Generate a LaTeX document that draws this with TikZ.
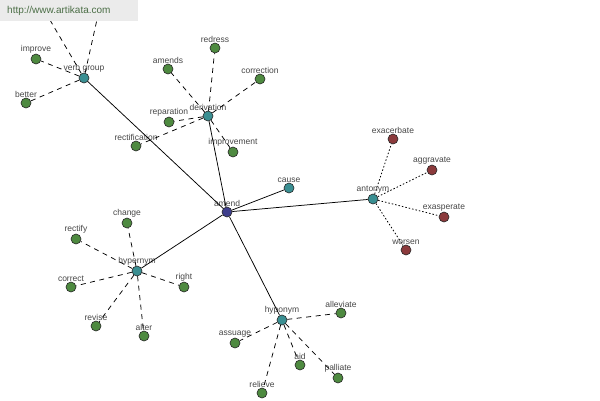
\documentclass[tikz,border=0pt]{standalone}
\usepackage{fontspec}
\setmainfont{Liberation Sans}
\begin{document}
\begin{tikzpicture}[x=1pt,y=-1pt,
  lbl/.style={font=\fontsize{8.5}{9}\selectfont, text=black!72, inner sep=0pt},
  nd/.style={circle, draw=black!85, line width=0.6pt, minimum size=10pt, inner sep=0pt, label distance=2.5pt},
  gn/.style={nd, fill={rgb,255:red,78;green,138;blue,64}},
  tn/.style={nd, fill={rgb,255:red,58;green,143;blue,146}},
  rn/.style={nd, fill={rgb,255:red,139;green,58;blue,60}},
  bn/.style={nd, fill={rgb,255:red,62;green,62;blue,140}},
  solidedge/.style={line width=0.75pt, black},
  dashedge/.style={line width=0.75pt, black, dash pattern=on 5pt off 4.5pt},
  dotedge/.style={line width=0.8pt, black, dash pattern=on 1.5pt off 2pt}
]
\useasboundingbox (0,0) rectangle (600,400);
\fill[white] (0,0) rectangle (600,400);
% hubs
\node[bn, label={[lbl]90:amend}] (amend) at (227,212) {};
\node[tn, label={[lbl]90:verb group}] (vg) at (84,78) {};
\node[tn, label={[lbl]90:derivation}] (der) at (208,116) {};
\node[tn, label={[lbl]90:antonym}] (ant) at (373,199) {};
\node[tn, label={[lbl]90:cause}] (cause) at (289,188) {};
\node[tn, label={[lbl]90:hypernym}] (hyper) at (137,271) {};
\node[tn, label={[lbl]90:hyponym}] (hypo) at (282,320) {};
% verb group
\node[gn, label={[lbl]90:improve}] (improve) at (36,59) {};
\node[gn, label={[lbl]90:better}] (better) at (26,103) {};
\node[gn] (hidA) at (40,3) {};
\node[gn] (hidB) at (98,15) {};
% derivation
\node[gn, label={[lbl]90:redress}] (redress) at (215,48) {};
\node[gn, label={[lbl]90:amends}] (amends) at (168,69) {};
\node[gn, label={[lbl]90:correction}] (correction) at (260,79) {};
\node[gn, label={[lbl]90:reparation}] (reparation) at (169,122) {};
\node[gn, label={[lbl]90:rectification}] (rectification) at (136,146) {};
\node[gn, label={[lbl]90:improvement}] (improvement) at (233,152) {};
% antonym
\node[rn, label={[lbl]90:exacerbate}] (exacerbate) at (393,139) {};
\node[rn, label={[lbl]90:aggravate}] (aggravate) at (432,170) {};
\node[rn, label={[lbl]90:exasperate}] (exasperate) at (444,217) {};
\node[rn, label={[lbl]90:worsen}] (worsen) at (406,250) {};
% hypernym
\node[gn, label={[lbl]90:change}] (change) at (127,223) {};
\node[gn, label={[lbl]90:rectify}] (rectify) at (76,239) {};
\node[gn, label={[lbl]90:correct}] (correct) at (71,287) {};
\node[gn, label={[lbl]90:right}] (right) at (184,287) {};
\node[gn, label={[lbl]90:revise}] (revise) at (96,326) {};
\node[gn, label={[lbl]90:alter}] (alter) at (144,336) {};
% hyponym
\node[gn, label={[lbl]90:alleviate}] (alleviate) at (341,313) {};
\node[gn, label={[lbl]90:assuage}] (assuage) at (235,343) {};
\node[gn, label={[lbl]90:aid}] (aid) at (300,365) {};
\node[gn, label={[lbl]90:palliate}] (palliate) at (338,378) {};
\node[gn, label={[lbl]90:relieve}] (relieve) at (262,393) {};
% edges
\draw[solidedge] (amend) -- (vg);
\draw[solidedge] (amend) -- (der);
\draw[solidedge] (amend) -- (cause);
\draw[solidedge] (amend) -- (ant);
\draw[solidedge] (amend) -- (hyper);
\draw[solidedge] (amend) -- (hypo);
\foreach \n in {improve,better,hidA,hidB} \draw[dashedge] (vg) -- (\n);
\foreach \n in {redress,amends,correction,reparation,rectification,improvement} \draw[dashedge] (der) -- (\n);
\foreach \n in {exacerbate,aggravate,exasperate,worsen} \draw[dotedge] (ant) -- (\n);
\foreach \n in {change,rectify,correct,right,revise,alter} \draw[dashedge] (hyper) -- (\n);
\foreach \n in {alleviate,assuage,aid,palliate,relieve} \draw[dashedge] (hypo) -- (\n);
% watermark
\node[fill={rgb,255:red,235;green,235;blue,235}, minimum width=138pt, minimum height=21pt, inner sep=0pt, anchor=north west] (wm) at (0,0) {};
\node[font=\fontsize{10}{11}\selectfont, text={rgb,255:red,75;green,110;blue,70}, anchor=west, inner sep=0pt] (wmtext) at (7,11) {http://www.artikata.com};
\end{tikzpicture}
\end{document}
